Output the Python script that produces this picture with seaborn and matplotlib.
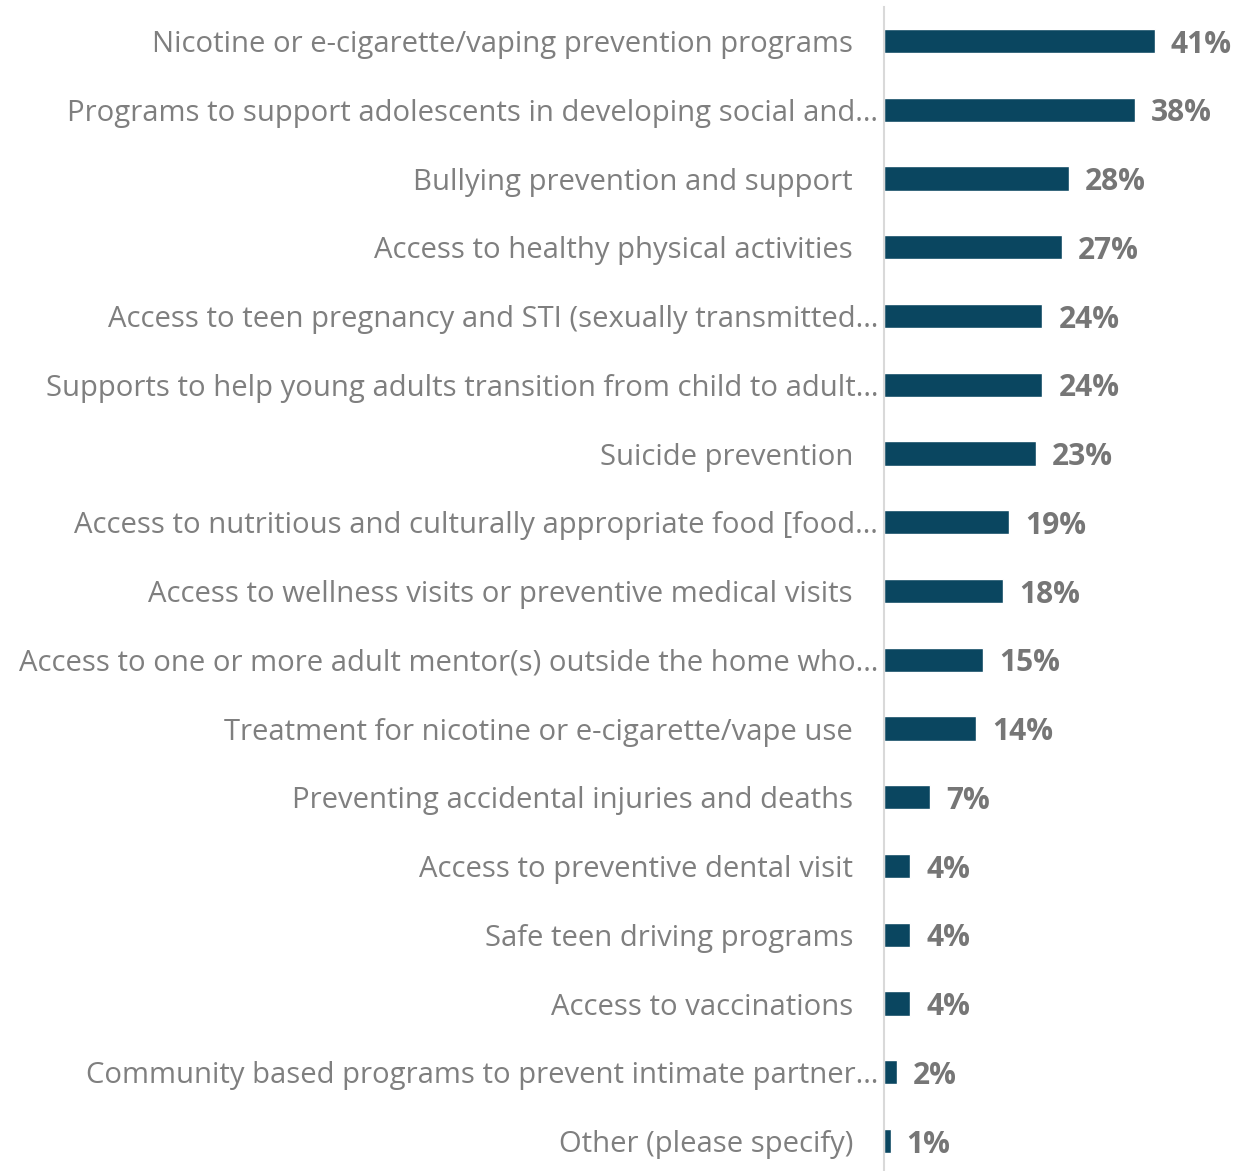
import matplotlib
matplotlib.use("Agg")
import matplotlib.pyplot as plt
from matplotlib.transforms import ScaledTranslation
import seaborn as sns
import pandas as pd

categories = [
    "Nicotine or e-cigarette/vaping prevention programs",
    "Programs to support adolescents in developing social and\u2026",
    "Bullying prevention and support",
    "Access to healthy physical activities",
    "Access to teen pregnancy and STI (sexually transmitted\u2026",
    "Supports to help young adults transition from child to adult\u2026",
    "Suicide prevention",
    "Access to nutritious and culturally appropriate food [food\u2026",
    "Access to wellness visits or preventive medical visits",
    "Access to one or more adult mentor(s) outside the home who\u2026",
    "Treatment for nicotine or e-cigarette/vape use",
    "Preventing accidental injuries and deaths",
    "Access to preventive dental visit",
    "Safe teen driving programs",
    "Access to vaccinations",
    "Community based programs to prevent intimate partner\u2026",
    "Other (please specify)",
]
values = [41, 38, 28, 27, 24, 24, 23, 19, 18, 15, 14, 7, 4, 4, 4, 2, 1]

df = pd.DataFrame({"category": categories, "value": values})

sns.set_theme(style="white")
plt.rcParams["font.family"] = ["Open Sans", "DejaVu Sans"]

W, H = 1235, 1171
fig = plt.figure(figsize=(W / 100, H / 100), dpi=100)
ax = fig.add_axes([884 / W, 0, (1181 - 884) / W, 1164 / H])

bar_color = "#0A4660"
sns.barplot(data=df, x="value", y="category", orient="h", color=bar_color,
            width=0.35, saturation=1, ax=ax)

ax.set_xlim(0, 45)
ax.set_ylim(16.436, -0.4946)
ax.set_xlabel("")
ax.set_ylabel("")
ax.set_xticks([])

for s in ["top", "right", "bottom"]:
    ax.spines[s].set_visible(False)
ax.spines["left"].set_color("#D9D9D9")
ax.spines["left"].set_linewidth(1.5)

ax.tick_params(axis="y", length=0, pad=22.3, labelsize=21.1, labelcolor="#7F7F7F")

# truncated labels overhang toward the axis
shift = ScaledTranslation(25 / 100, 0, fig.dpi_scale_trans)
for lbl in ax.get_yticklabels():
    if lbl.get_text().endswith("\u2026"):
        lbl.set_transform(lbl.get_transform() + shift)

for i, v in enumerate(values):
    ax.annotate(f"{v}%", xy=(v, i), xytext=(16, 0), textcoords="offset pixels",
                ha="left", va="center_baseline", fontsize=21.5, fontweight="bold",
                color="#767676")

fig.savefig("out.png", dpi=100)
